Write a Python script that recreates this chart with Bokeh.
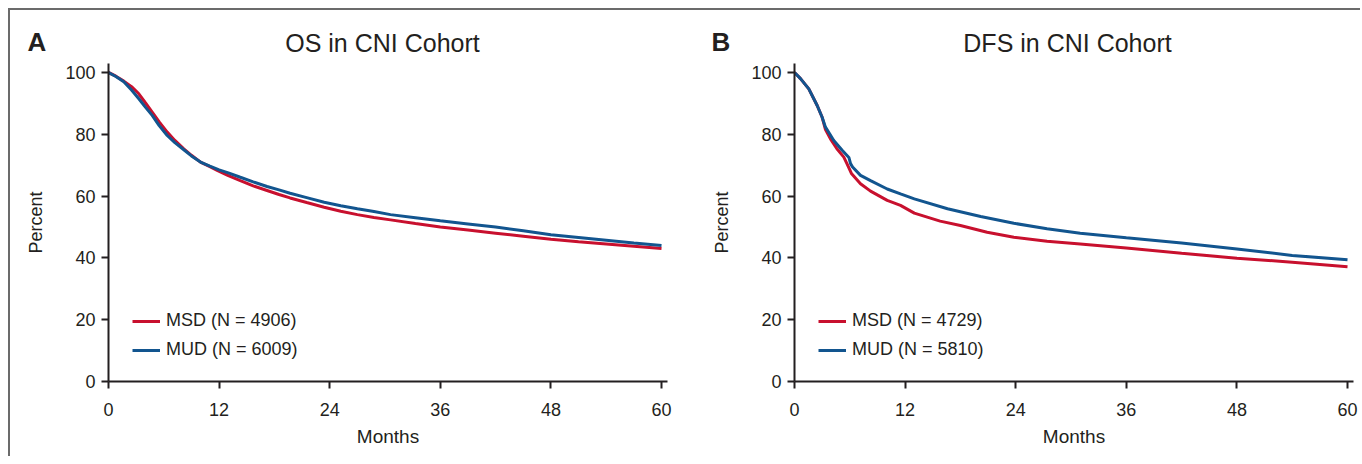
from bokeh.plotting import figure
from bokeh.models import Label, Legend, LegendItem, Range1d, FixedTicker
from bokeh.layouts import row, column
from bokeh.embed import file_html
from bokeh.resources import INLINE

# ---------------- data ----------------
x_ticks = [0, 12, 24, 36, 48, 60]
y_ticks = [0, 20, 40, 60, 80, 100]

os_msd_months = [0, 0.8, 1.66, 2.5, 3.29, 4.0, 4.74, 5.5, 6.37, 7.2, 8.17, 9.0, 9.98, 11.0, 11.79,
                 13.0, 14.3, 15.7, 17.2, 18.5, 19.7, 21.5, 23.4, 25.2, 27.0, 28.8, 30.6, 33.3, 36,
                 39, 42, 45, 48, 51, 54, 57, 60]
os_msd_pct = [100, 98.8, 97.2, 95.4, 93.1, 90.2, 87.2, 84.0, 80.7, 78.0, 75.3, 73.2, 71.0, 69.5, 68.3,
              66.6, 65.0, 63.3, 61.8, 60.5, 59.4, 57.9, 56.4, 55.1, 54.0, 53.1, 52.3, 51.1, 50.0,
              49.0, 48.0, 47.0, 46.0, 45.2, 44.5, 43.8, 43.0]

os_mud_months = [0, 0.8, 1.66, 2.5, 3.29, 4.0, 4.74, 5.5, 6.37, 7.2, 8.17, 9.0, 9.98, 11.0, 12.0,
                 13.0, 14.3, 15.7, 17.2, 18.5, 19.7, 21.5, 23.4, 25.2, 27.0, 28.8, 30.6, 33.3, 36,
                 39, 42, 45, 48, 51, 54, 57, 60]
os_mud_pct = [100, 98.7, 97.0, 94.3, 91.5, 88.8, 86.1, 82.8, 79.6, 77.3, 75.0, 73.0, 71.0, 69.7, 68.5,
              67.5, 66.1, 64.6, 63.1, 62.0, 60.9, 59.5, 58.0, 56.9, 55.9, 55.0, 54.0, 53.0, 52.0,
              51.0, 50.0, 48.8, 47.5, 46.6, 45.7, 44.8, 44.0]

dfs_msd_months = [0, 0.65, 1.55, 2.46, 3.0, 3.36, 3.9, 4.6, 5.35, 5.7, 6.0, 6.2, 7.16, 8.25, 10.06,
                  11.5, 13.0, 15.8, 18.0, 20.9, 23.8, 27.4, 31.0, 36, 42, 48, 54, 60]
dfs_msd_pct = [100, 98.0, 94.7, 89.3, 85.5, 81.5, 78.5, 75.3, 72.6, 70.4, 68.5, 67.2, 64.0, 61.6, 58.6,
               57.0, 54.5, 51.9, 50.5, 48.3, 46.7, 45.4, 44.5, 43.2, 41.5, 39.9, 38.6, 37.1]

dfs_mud_months = [0, 0.65, 1.55, 2.46, 3.0, 3.36, 4.26, 5.17, 5.9, 6.08, 6.3, 7.16, 8.25, 10.06, 11.5,
                  13.0, 16.6, 20.2, 23.8, 27.4, 31.0, 36, 42, 48, 54, 60]
dfs_mud_pct = [100, 98.0, 94.7, 89.3, 85.5, 82.3, 78.0, 74.8, 72.5, 70.5, 69.4, 66.7, 65.0, 62.3, 60.7,
               59.1, 55.9, 53.4, 51.2, 49.4, 48.0, 46.5, 44.8, 42.9, 40.8, 39.4]

panels = [
    dict(letter="A", title="OS in CNI Cohort",
         msd=(os_msd_months, os_msd_pct), mud=(os_mud_months, os_mud_pct),
         msd_label="MSD (N = 4906)", mud_label="MUD (N = 6009)"),
    dict(letter="B", title="DFS in CNI Cohort",
         msd=(dfs_msd_months, dfs_msd_pct), mud=(dfs_mud_months, dfs_mud_pct),
         msd_label="MSD (N = 4729)", mud_label="MUD (N = 5810)"),
]

RED = "#C8102E"
BLUE = "#12558F"
INK = "#231F20"
SANS = "Liberation Sans"

HEADER_H = 53
PLOT_H = 393


def make_header(cfg, width, title_cx):
    h = figure(width=width, height=HEADER_H, output_backend="svg", toolbar_location=None,
               title=None, x_range=Range1d(0, width), y_range=Range1d(0, HEADER_H),
               x_axis_type=None, y_axis_type=None, min_border=0, frame_align=False)
    h.outline_line_color = None
    h.grid.visible = False
    h.add_layout(Label(x=title_cx, y=7, text=cfg["title"],
                       text_font=SANS, text_font_size="25px", text_color=INK,
                       text_align="center", text_baseline="bottom"))
    h.add_layout(Label(x=17, y=7, text=cfg["letter"],
                       text_font=SANS, text_font_size="26px", text_font_style="bold",
                       text_color=INK, text_align="left", text_baseline="bottom"))
    return h


def make_panel(cfg, width, left, right):
    p = figure(width=width, height=PLOT_H, output_backend="svg", toolbar_location=None,
               title=None, x_range=Range1d(0, 60.65), y_range=Range1d(0, 102.9),
               min_border_left=left, min_border_right=right,
               min_border_top=0, min_border_bottom=75, frame_align=False)
    p.outline_line_color = None
    p.xgrid.visible = False
    p.ygrid.visible = False

    r1 = p.line(cfg["msd"][0], cfg["msd"][1], line_color=RED, line_width=3)
    r2 = p.line(cfg["mud"][0], cfg["mud"][1], line_color=BLUE, line_width=3)

    for ax in (p.xaxis[0], p.yaxis[0]):
        ax.axis_line_color = INK
        ax.axis_line_width = 2
        ax.major_tick_line_color = INK
        ax.major_tick_line_width = 2
        ax.major_tick_out = 7
        ax.major_tick_in = 0
        ax.minor_tick_line_color = None
        ax.major_label_text_font = SANS
        ax.major_label_text_font_size = "18px"
        ax.major_label_text_color = INK
        ax.axis_label_text_font = SANS
        ax.axis_label_text_font_style = "normal"
        ax.axis_label_text_color = INK
    p.xaxis.ticker = FixedTicker(ticks=x_ticks)
    p.yaxis.ticker = FixedTicker(ticks=y_ticks)
    p.xaxis.axis_label = "Months"
    p.xaxis.axis_label_text_font_size = "19px"
    p.xaxis.major_label_standoff = 14
    p.xaxis.axis_label_standoff = 7
    p.yaxis.axis_label = "Percent"
    p.yaxis.axis_label_text_font_size = "18px"
    p.yaxis.major_label_standoff = 6
    p.yaxis.axis_label_standoff = 16

    legend = Legend(items=[LegendItem(label=cfg["msd_label"], renderers=[r1]),
                           LegendItem(label=cfg["mud_label"], renderers=[r2])],
                    location=(24, 21), orientation="vertical")
    legend.label_text_font = SANS
    legend.label_text_font_size = "18px"
    legend.label_text_color = INK
    legend.glyph_width = 28
    legend.glyph_height = 20
    legend.label_height = 20
    legend.label_standoff = 6
    legend.spacing = 8
    legend.padding = 0
    legend.margin = 0
    legend.background_fill_alpha = 0
    legend.border_line_alpha = 0
    p.add_layout(legend, "center")
    return p


col_a = column(make_header(panels[0], 684, 372), make_panel(panels[0], 684, 98, 27))
col_b = column(make_header(panels[1], 666, 373), make_panel(panels[1], 666, 100, 7))

layout = row(col_a, col_b, margin=(8, 0, 0, 8),
             styles={"border-top": "2px solid #6b6b6b", "border-left": "2px solid #6b6b6b"})

open("out.html", "w").write(file_html(layout, INLINE))
